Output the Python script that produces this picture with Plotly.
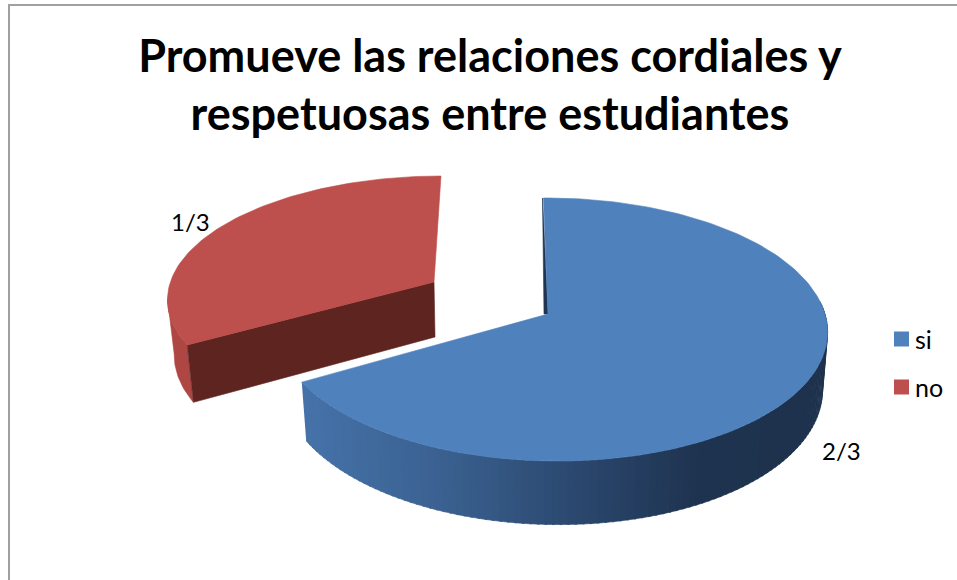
import numpy as np
import plotly.graph_objects as go

TITLE_LINES = ["Promueve las relaciones cordiales y", "respetuosas entre estudiantes"]
CATEGORIES = ["si", "no"]
VALUES = [2, 1]
DATA_LABELS = ["2/3", "1/3"]

TOP_COLORS = ["#4F81BD", "#BD4F4C"]
FONT = "Lato"
TEXT = "#000000"

# projection of each slice (pixel-like axes, perspective pie)
BLUE = dict(ax=548, ay=314, R=273.5, S=129.7, s=-5, p=0.118, q=-0.0125, d=56, shrink=0.018)
RED = dict(ax=434, ay=282, R=263.6, S=118.5, s=7.8, p=0.118, q=0.0, d=54, shrink=0.025)

total = sum(VALUES)
sweeps = [v / total * 360 for v in VALUES]
blue_start, blue_end = 0.0, sweeps[0]
red_start, red_end = sweeps[0], sweeps[0] + sweeps[1]


def top(t, g):
    t = np.radians(np.asarray(t, float))
    u, v = np.sin(t), np.cos(t)
    w = 1 + g["p"] * v + g["q"] * u
    return g["ax"] + (g["R"] * u + g["s"] * v) / w, g["ay"] - g["S"] * v / w


def bottom(t, g):
    x, y = top(t, g)
    t = np.radians(np.asarray(t, float))
    w = 1 + g["p"] * np.cos(t) + g["q"] * np.sin(t)
    return x + (g["ax"] - x) * g["shrink"], y + g["d"] / w


def poly(xs, ys, color, line=None):
    return go.Scatter(x=list(xs), y=list(ys), mode="lines", fill="toself", fillcolor=color,
                      line=dict(color=line or color, width=0.6), hoverinfo="skip", showlegend=False)


RAMP_X = [302, 450, 590, 700, 825]
RAMP_C = [(70, 115, 170), (58, 96, 143), (42, 70, 108), (31, 52, 80), (30, 50, 77)]


def ramp(x):
    c = [np.interp(x, RAMP_X, [k[i] for k in RAMP_C]) for i in range(3)]
    return "rgb(%d,%d,%d)" % tuple(c)


fig = go.Figure()

# --- "no" slice: outer wall, cut wall, top
ts = np.linspace(red_start, 262, 30)
xt, yt = top(ts, RED)
xb, yb = bottom(ts, RED)
fig.add_trace(poly(np.r_[xt, xb[::-1]], np.r_[yt, yb[::-1]], "#AE4643"))
cx, cy = top(red_start, RED)
bx, by = bottom(red_start, RED)
apx, apy = RED["ax"], RED["ay"]
fig.add_trace(poly([cx, apx, apx + 1, bx, cx], [cy, apy, apy + RED["d"] + 1, by, cy], "#5E2420"))
ts = np.linspace(red_start, red_end, 90)
xt, yt = top(ts, RED)
fig.add_trace(poly(np.r_[apx, xt, apx], np.r_[apy, yt, apy], TOP_COLORS[1]))

# --- "si" slice: inner sliver, curved wall in shaded strips, top
sx, sy = top(blue_start, BLUE)
ax0, ay0 = BLUE["ax"], BLUE["ay"]
fig.add_trace(poly([sx - 1, ax0 - 4, ax0, sx - 1], [sy, ay0, ay0, sy], "#1F3552"))

edges = np.linspace(blue_end, 85, 110)
for a, b in zip(edges[:-1], edges[1:]):
    seg = np.array([a, b + (b - a) * 0.3])
    xt, yt = top(seg, BLUE)
    xb, yb = bottom(seg, BLUE)
    fig.add_trace(poly(np.r_[xt, xb[::-1]], np.r_[yt, yb[::-1]], ramp(float(xt.mean()))))

ts = np.linspace(blue_start, blue_end, 180)
xt, yt = top(ts, BLUE)
fig.add_trace(poly(np.r_[ax0, xt, ax0], np.r_[ay0, yt, ay0], TOP_COLORS[0]))

# --- legend: swatches and labels
LEG_Y = [339, 387]
for name, col, ly in zip(CATEGORIES, TOP_COLORS, LEG_Y):
    fig.add_trace(go.Scatter(x=[901.5], y=[ly], mode="markers", name=name, showlegend=False,
                             hoverinfo="name",
                             marker=dict(symbol="square", size=15, color=col)))
    fig.add_annotation(x=913, y=ly, text=name, showarrow=False, xref="x", yref="y", xanchor="left",
                       font=dict(family=FONT, size=25, color=TEXT))

# --- data labels
fig.add_annotation(x=841, y=450, text=DATA_LABELS[0], showarrow=False, xref="x", yref="y",
                   font=dict(family=FONT, size=24, color=TEXT))
fig.add_annotation(x=190, y=221, text=DATA_LABELS[1], showarrow=False, xref="x", yref="y",
                   font=dict(family=FONT, size=24, color=TEXT))

fig.update_layout(
    width=957, height=580, autosize=False,
    showlegend=False,
    margin=dict(l=0, r=0, t=0, b=0),
    paper_bgcolor="#FFFFFF", plot_bgcolor="#FFFFFF",
    xaxis=dict(range=[0, 957], visible=False, fixedrange=True),
    yaxis=dict(range=[580, 0], visible=False, fixedrange=True),
    title=dict(text="<b>" + "<br>".join(TITLE_LINES) + "</b>", x=0.512, xanchor="center",
               y=0.876, yanchor="top", font=dict(family=FONT, size=45, color=TEXT)),
    shapes=[
        dict(type="line", xref="paper", yref="paper", x0=9 / 957, x1=9 / 957, y0=0, y1=575 / 580,
             line=dict(color="#A0A0A0", width=2)),
        dict(type="line", xref="paper", yref="paper", x0=8 / 957, x1=1, y0=575 / 580, y1=575 / 580,
             line=dict(color="#A0A0A0", width=2)),
    ],
)
fig.write_html("out.html", config={"displayModeBar": False},
               post_script="document.body.style.margin='0';document.documentElement.style.overflow='hidden';")
